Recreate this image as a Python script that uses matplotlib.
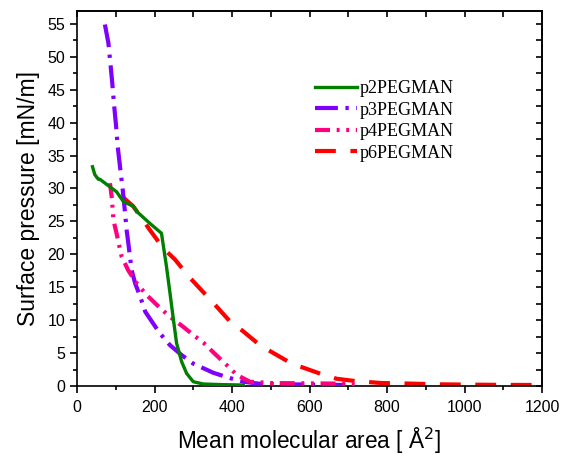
import matplotlib
matplotlib.use("Agg")
import matplotlib.pyplot as plt
from matplotlib.ticker import MultipleLocator

# p2PEGMAN
x_p2 = [40, 46, 55, 59, 77, 102, 120, 145, 158, 188, 218, 231, 240, 249, 257, 270, 283, 300, 326, 380, 429]
y_p2 = [33.3, 32.1, 31.4, 31.4, 30.6, 29.5, 28.0, 27.3, 26.3, 24.7, 23.2, 18.1, 14.1, 10.0, 6.5, 3.7, 1.9, 0.65, 0.3, 0.2, 0.15]

# p3PEGMAN
x_p3 = [72, 81, 87, 91, 96, 101, 105, 111, 118, 124, 128, 132, 141, 150, 163, 176, 193, 214, 240, 270, 300, 352, 395, 429, 470, 550, 620, 700]
y_p3 = [54.9, 52.1, 48.5, 46.0, 42.5, 39.4, 36.4, 33.3, 29.8, 26.3, 23.7, 21.9, 17.6, 15.6, 13.6, 11.3, 9.8, 8.0, 6.2, 4.7, 3.4, 2.0, 1.2, 0.65, 0.35, 0.25, 0.2, 0.15]

# p4PEGMAN
x_p4 = [85, 90, 94, 102, 115, 132, 150, 180, 210, 240, 274, 300, 326, 352, 386, 412, 446, 500, 600, 700, 720]
y_p4 = [30.8, 28.5, 25.2, 23.2, 19.7, 17.6, 15.9, 13.8, 12.1, 10.5, 9.0, 7.75, 6.6, 5.1, 3.2, 1.7, 0.65, 0.45, 0.4, 0.35, 0.2]

# p6PEGMAN
x_p6 = [120, 145, 188, 223, 253, 292, 352, 395, 429, 472, 507, 554, 588, 636, 670, 717, 786, 834, 937, 1022, 1100, 1200]
y_p6 = [28.6, 27.3, 23.7, 20.9, 19.2, 16.4, 12.6, 9.8, 8.3, 6.2, 5.0, 3.4, 2.7, 1.7, 1.1, 0.76, 0.45, 0.4, 0.25, 0.2, 0.17, 0.15]

labels = ["p2PEGMAN", "p3PEGMAN", "p4PEGMAN", "p6PEGMAN"]

fig = plt.figure(figsize=(5.63, 4.55), dpi=100)
ax = fig.add_axes([77/563, 1-386/455, (542-77)/563, (386-10.7)/455])

ax.plot(x_p2, y_p2, color="#007F00", lw=2.4, ls="-", label=labels[0], zorder=4)
ax.plot(x_p3, y_p3, color="#8000FF", lw=3.0, ls=(0, (5.5, 1.8, 0.8, 1.8)), label=labels[1], zorder=3)
ax.plot(x_p4, y_p4, color="#FF0080", lw=3.0, ls=(0, (3.6, 1.6, 0.7, 1.6, 0.7, 1.6)), label=labels[2], zorder=3)
ax.plot(x_p6, y_p6, color="#FF0000", lw=3.0, ls=(0, (5, 3.5)), label=labels[3], zorder=2)

ax.set_xlim(0, 1200)
ax.set_ylim(0, 57)

ax.xaxis.set_major_locator(MultipleLocator(200))
ax.xaxis.set_minor_locator(MultipleLocator(100))
ax.yaxis.set_major_locator(MultipleLocator(5))
ax.yaxis.set_minor_locator(MultipleLocator(2.5))

ax.tick_params(axis="both", which="major", direction="out", length=5, width=1.2,
               labelsize=11.5, top=False, right=False)
ax.tick_params(axis="both", which="minor", direction="out", length=3, width=1.2,
               top=False, right=False)
ax.tick_params(axis="x", which="major", pad=5)
for lab in ax.get_xticklabels() + ax.get_yticklabels():
    lab.set_fontfamily("Liberation Sans")

axt = ax.secondary_xaxis("top")
axt.xaxis.set_major_locator(MultipleLocator(100))
axt.tick_params(direction="in", length=4, width=1.2, labeltop=False)
axr = ax.secondary_yaxis("right")
axr.yaxis.set_major_locator(MultipleLocator(2.5))
axr.tick_params(direction="in", length=4, width=1.2, labelright=False)
axt.spines["top"].set_linewidth(1.2)
axr.spines["right"].set_linewidth(1.2)

for s in ax.spines.values():
    s.set_linewidth(1.2)

ax.set_xlabel("Mean molecular area [ Å$^2$]", fontsize=16.3, family="Liberation Sans", labelpad=8)
ax.set_ylabel("Surface pressure [mN/m]", fontsize=16.5, family="Liberation Sans", labelpad=5)

leg = ax.legend(loc="upper left", bbox_to_anchor=((315-77)/465, (386-80)/375.3), frameon=False,
                prop={"family": "Liberation Serif", "size": 13}, handlelength=2.3,
                handletextpad=0.2, labelspacing=0.25, borderaxespad=0, borderpad=0)

fig.savefig("out.png", dpi=100)
